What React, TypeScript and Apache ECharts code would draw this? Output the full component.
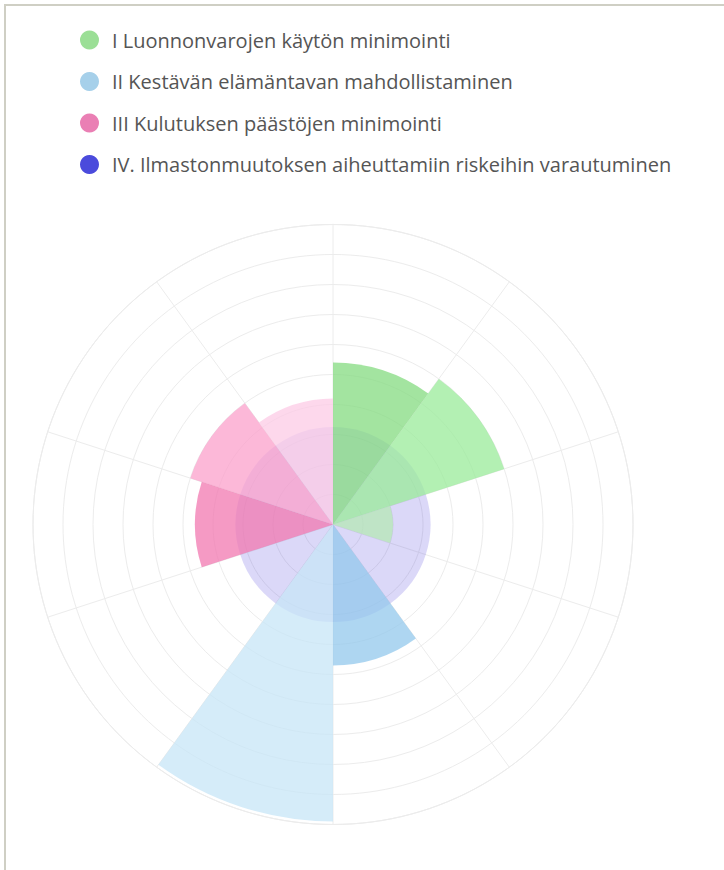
import React, { useEffect, useRef } from "react";
import * as echarts from "echarts";

const categories = ["1", "2", "3", "4", "5", "6", "7", "8", "9", "10"];
const seriesNames = [
  "I Luonnonvarojen käytön minimointi",
  "II Kestävän elämäntavan mahdollistaminen",
  "III Kulutuksen päästöjen minimointi",
  "IV. Ilmastonmuutoksen aiheuttamiin riskeihin varautuminen",
];
const valuesI = [5.4, 6.0, 2.0, null, null, null, null, null, null, null];
const valuesII = [null, null, null, null, 4.7, 9.9, null, null, null, null];
const valuesIII = [null, null, null, null, null, null, null, 4.6, 5.0, 4.2];
const valuesIV = [3.25, 3.25, 3.25, 3.25, 3.25, 3.25, 3.25, 3.25, 3.25, 3.25];

const legendColors = ["#9bdf96", "#a6d0ea", "#ea7fb4", "#4b4bdc"];
const itemColorsI = ["rgba(132,219,128,0.75)", "rgba(154,235,154,0.75)", "rgba(182,232,182,0.75)"];
const itemColorsII = ["rgba(147,200,236,0.75)", "rgba(199,230,247,0.75)"];
const itemColorsIII = ["rgba(242,120,176,0.75)", "rgba(251,160,203,0.75)", "rgba(252,203,230,0.75)"];
const colorIV = "rgba(75,60,220,0.2)";

function withColors(vals: (number | null)[], colors: string[]) {
  let k = 0;
  return vals.map((v) => {
    if (v == null) return null;
    const c = colors[Math.min(k, colors.length - 1)];
    k++;
    return { value: v, itemStyle: { color: c } };
  });
}

export default function App() {
  const ref = useRef<HTMLDivElement>(null);
  useEffect(() => {
    document.body.style.margin = "0";
    const chart = echarts.init(ref.current!, null, { renderer: "svg" });
    const common = {
      type: "bar",
      coordinateSystem: "polar",
      barGap: "-100%",
      barCategoryGap: "0%",
    };
    chart.setOption({
      animation: false,
      legend: {
        orient: "vertical",
        left: 75,
        top: 25,
        itemWidth: 19,
        itemHeight: 19,
        itemGap: 21.5,
        icon: "circle",
        data: seriesNames.map((n, i) => ({
          name: n,
          itemStyle: { color: legendColors[i], opacity: 1 },
        })),
        textStyle: {
          fontSize: 20,
          lineHeight: 19,
          color: "#555",
          fontFamily: "Open Sans",
          padding: [0, 0, 0, 8],
        },
      },
      polar: { center: [333, 524.5], radius: 300 },
      angleAxis: {
        type: "category",
        data: categories,
        startAngle: 90,
        axisLine: { show: true, lineStyle: { color: "#ececec" } },
        axisTick: { show: false },
        axisLabel: { show: false },
        splitLine: { show: true, lineStyle: { color: "#ececec" } },
      },
      radiusAxis: {
        type: "value",
        min: 0,
        max: 10,
        interval: 1,
        axisLine: { show: false },
        axisTick: { show: false },
        axisLabel: { show: false },
        splitLine: { show: true, lineStyle: { color: "#ececec" } },
      },
      series: [
        { ...common, name: seriesNames[3], data: valuesIV, itemStyle: { color: colorIV } },
        { ...common, name: seriesNames[0], data: withColors(valuesI, itemColorsI) },
        { ...common, name: seriesNames[1], data: withColors(valuesII, itemColorsII) },
        { ...common, name: seriesNames[2], data: withColors(valuesIII, itemColorsIII) },
      ],
    });
    return () => chart.dispose();
  }, []);
  return (
    <div style={{ position: "fixed", left: 0, top: 0, width: 724, height: 870, background: "#fff" }}>
      <div
        style={{
          position: "absolute",
          left: 4,
          top: 4,
          right: -10,
          bottom: -10,
          borderTop: "2px solid #cfcfc4",
          borderLeft: "2px solid #cfcfc4",
        }}
      />
      <div ref={ref} style={{ position: "absolute", left: 0, top: 0, width: 724, height: 870 }} />
    </div>
  );
}
